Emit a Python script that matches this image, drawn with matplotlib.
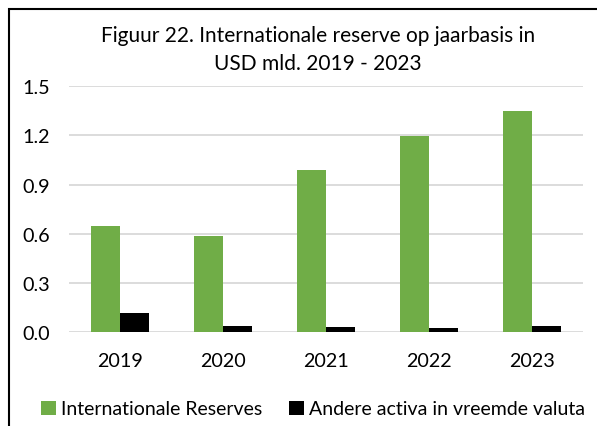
import numpy as np
import matplotlib
matplotlib.use("Agg")
from matplotlib import pyplot as plt
from matplotlib.patches import Rectangle

# data
years = ['2019', '2020', '2021', '2022', '2023']
reserves = [0.65, 0.585, 0.99, 1.195, 1.345]
other_assets = [0.115, 0.037, 0.032, 0.028, 0.037]
y_ticks = [0.0, 0.3, 0.6, 0.9, 1.2, 1.5]

green = '#70AD47'
plt.rcParams['font.family'] = ['Lato', 'DejaVu Sans']

fig = plt.figure(figsize=(5.97, 4.27), dpi=100)
ax = fig.add_axes([69 / 597, 1 - 333.3 / 427, 514 / 597, 246.3 / 427])

x = np.arange(len(years))
w = 0.282
ax.bar(x - w / 2, reserves, w, color=green, label='Internationale Reserves')
ax.bar(x + w / 2, other_assets, w, color='black', label='Andere activa in vreemde valuta')

ax.set_xlim(-0.5, len(years) - 0.5)
ax.set_ylim(0, 1.5)
ax.set_yticks(y_ticks)
ax.set_yticklabels([f'{t:.1f}' for t in y_ticks])
ax.set_xticks(x)
ax.set_xticklabels(years)
ax.tick_params(axis='both', length=0, labelsize=14.2, colors='black')
ax.tick_params(axis='y', pad=14)
ax.tick_params(axis='x', pad=14)
ax.grid(axis='y', color='#D9D9D9', linewidth=1.3)
ax.set_axisbelow(True)
for s in ax.spines.values():
    s.set_visible(False)

fig.text(318 / 597, 1 - 50 / 427, 'Figuur 22. Internationale reserve op jaarbasis in\nUSD mld. 2019 - 2023',
         ha='center', va='center', fontsize=15, linespacing=1.5)

fig.legend(loc='center', bbox_to_anchor=(313 / 597, 1 - 410 / 427), ncol=2, frameon=False,
           fontsize=14, handlelength=0.75, handleheight=0.75, handletextpad=0.25,
           columnspacing=1.4, borderpad=0, borderaxespad=0)

# outer chart border (cut at the right and bottom)
fig.patches.append(Rectangle((9 / 597, -0.05), 1.2, 1 - 10 / 427 + 0.05,
                             transform=fig.transFigure, fill=False,
                             edgecolor='black', linewidth=1.5))

fig.savefig('out.png', dpi=100)
